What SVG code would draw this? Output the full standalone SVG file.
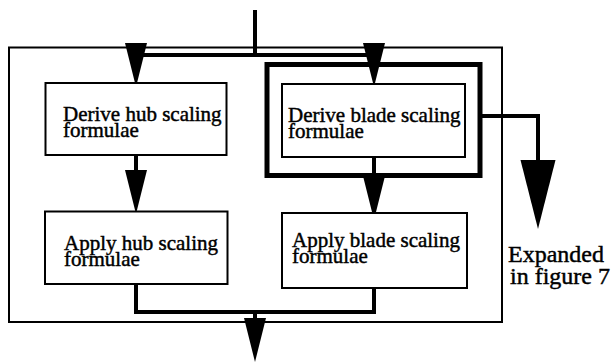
<svg xmlns="http://www.w3.org/2000/svg" width="612" height="364" viewBox="0 0 612 364">
  <style>
    .box { fill: #fff; stroke: #000; stroke-width: 2; }
    .frame { fill: none; stroke: #000; stroke-width: 2; }
    .thick { fill: none; stroke: #000; stroke-width: 5; }
    .wire { fill: none; stroke: #000; stroke-width: 4; stroke-linejoin: miter; }
    .lbl { font-family: "Liberation Serif", "Times New Roman", serif; font-size: 21px; fill: #000; stroke: #000; stroke-width: 0.45; }
    .note { font-family: "Liberation Serif", "Times New Roman", serif; font-size: 24px; fill: #000; stroke: #000; stroke-width: 0.45; }
  </style>
  <defs>
    <!-- standard solid arrowhead, tip at (0,44) -->
    <path id="head" d="M-11,0 L11,0 L0,44 Z" fill="#000"/>
    <!-- large arrowhead for the expansion reference -->
    <path id="bighead" d="M-17.5,0 L17.5,0 L0,69 Z" fill="#000"/>
  </defs>

  <rect width="612" height="364" fill="#fff"/>

  <!-- enclosing frame -->
  <g id="frame">
    <rect class="frame" x="9" y="47.5" width="493" height="274.5"/>
  </g>

  <!-- connectors -->
  <g id="connectors">
    <!-- input and distribution -->
    <line class="wire" x1="255" y1="10" x2="255" y2="57" stroke-width="3"/>
    <line class="wire" x1="136" y1="55" x2="374" y2="55"/>
    <use href="#head" x="136" y="43"/>
    <use href="#head" x="374" y="43"/>
    <!-- derive to apply -->
    <line class="wire" x1="136" y1="155" x2="136" y2="172"/>
    <use href="#head" x="136" y="170"/>
    <line class="wire" x1="374" y1="157" x2="374" y2="178"/>
    <use href="#head" x="374" y="176"/>
    <!-- merge and output -->
    <polyline class="wire" points="136,284 136,312 374,312 374,288"/>
    <line class="wire" x1="255" y1="312" x2="255" y2="321"/>
    <use href="#head" x="255" y="318"/>
    <!-- expansion reference -->
    <polyline class="wire" points="482,116 538,116 538,162"/>
    <use href="#bighead" x="538" y="160"/>
  </g>

  <g id="derive-hub">
    <rect class="box" x="45.5" y="83" width="181" height="72"/>
    <text class="lbl" x="63" y="121">Derive hub scaling<tspan x="63" y="137">formulae</tspan></text>
  </g>

  <g id="derive-blade">
    <rect class="thick" x="267" y="64.5" width="213" height="111"/>
    <rect class="box" x="282" y="84" width="183" height="73"/>
    <text class="lbl" x="288" y="121.5">Derive blade scaling<tspan x="288" y="138">formulae</tspan></text>
  </g>

  <g id="apply-hub">
    <rect class="box" x="45" y="211.5" width="182.5" height="72.5"/>
    <text class="lbl" x="64" y="250">Apply hub scaling<tspan x="64" y="265.5">formulae</tspan></text>
  </g>

  <g id="apply-blade">
    <rect class="box" x="282" y="213" width="185" height="75"/>
    <text class="lbl" x="292" y="247">Apply blade scaling<tspan x="292" y="263">formulae</tspan></text>
  </g>

  <g id="expanded-note">
    <text class="note" x="508" y="261.5">Expanded<tspan x="510" y="284">in figure 7</tspan></text>
  </g>
</svg>
